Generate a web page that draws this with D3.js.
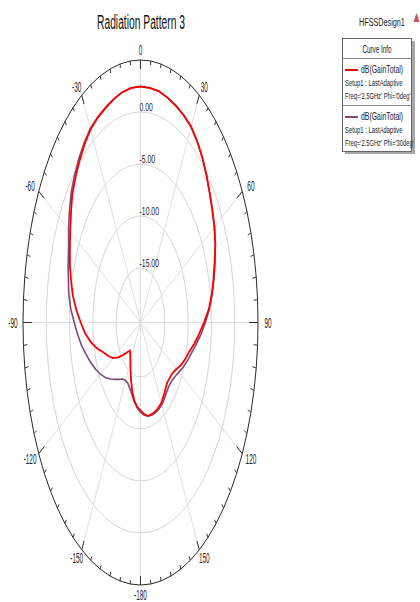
<!DOCTYPE html>
<html>
<head>
<meta charset="utf-8">
<script src="https://cdn.jsdelivr.net/npm/d3@7"></script>
<style>
  body { margin: 0; background: #fff; }
  text { font-family: "Liberation Sans", Arial, sans-serif; fill: #222; }
</style>
</head>
<body>
<div id="chart"></div>
<script>
// angles in degrees (0 = top, clockwise)
const angles = [-180,-175,-170,-165,-160,-155,-150,-145,-140,-135,-130,-125,-120,-115,-110,-105,-100,-95,-90,-85,-80,-75,-70,-65,-60,-55,-50,-45,-40,-35,-30,-25,-20,-15,-10,-5,
  0,5,10,15,20,25,30,35,40,45,50,55,60,65,70,75,80,85,90,95,100,105,110,115,120,125,130,135,140,145,150,155,160,165,170,175,180];

// dB(GainTotal), Phi = 0deg
const gainPhi0 = [-11.8,-12.1,-12.6,-13.4,-14.3,-15.2,-15.9,-16.4,-16.7,-16.2,-15.4,-14.4,-13.4,-12.6,-11.8,-10.6,-9.4,-8.3,-7.4,-6.4,-5.5,-4.8,-4.1,-3.5,-2.8,-2.0,-1.1,-0.5,0.1,0.7,1.2,1.5,1.7,2.0,2.25,2.4,
  2.45,2.4,2.35,2.15,1.95,1.75,1.5,1.0,0.45,-0.2,-0.85,-1.4,-1.9,-2.5,-3.3,-4.0,-4.7,-5.5,-6.6,-7.6,-8.5,-9.4,-10.0,-10.6,-11.3,-11.8,-12.0,-12.1,-11.9,-11.6,-11.3,-11.2,-11.1,-11.1,-11.1,-11.4,-11.8];

// dB(GainTotal), Phi = 30deg
const gainPhi30 = [-11.6,-12.0,-12.5,-13.1,-13.5,-13.8,-13.8,-13.6,-13.1,-12.5,-11.8,-11.0,-10.3,-9.6,-8.9,-8.2,-7.4,-6.7,-6.0,-5.2,-4.6,-4.2,-3.7,-3.2,-2.4,-1.6,-0.8,-0.2,0.35,0.85,1.3,1.55,1.75,2.0,2.25,2.4,
  2.45,2.4,2.35,2.15,1.95,1.75,1.5,1.0,0.45,-0.2,-0.85,-1.4,-1.9,-2.5,-3.2,-3.9,-4.6,-5.4,-6.3,-7.2,-8.1,-8.9,-9.5,-10.1,-10.7,-11.2,-11.5,-11.6,-11.5,-11.3,-11.1,-11.0,-11.0,-11.0,-11.1,-11.3,-11.6];

const ringValues = [0, -5, -10, -15];
const ringLabels = ["0.00", "-5.00", "-10.00", "-15.00"];
const spokeAngles = [0, 30, 60, 90, 120, 150, 180, 210, 240, 270, 300, 330];
const angleLabels = ["0", "30", "60", "90", "120", "150", "-180", "-150", "-120", "-90", "-60", "-30"];

const legendItems = [
  {color: "#ff0000", name: "dB(GainTotal)", setup: "Setup1 : LastAdaptive", freq: "Freq='2.5GHz' Phi='0deg'"},
  {color: "#7d4a7a", name: "dB(GainTotal)", setup: "Setup1 : LastAdaptive", freq: "Freq='2.5GHz' Phi='30deg'"}
];

const width = 420, height = 602;
const cx = 140.5, cy = 322.5, rx = 117.5, ry = 262.5;

const svg = d3.select("#chart").append("svg")
    .attr("width", width)
    .attr("height", height);

// radial scale: dB -> fraction of the outer radius
const r = d3.scaleLinear().domain([-20.24, 5]).range([0, 1]);
const rad = d => d * Math.PI / 180;
const px = (a, f) => cx + rx * f * Math.sin(rad(a));
const py = (a, f) => cy - ry * f * Math.cos(rad(a));

// squished text helper
function sText(parent, x, y, str, size, sx, anchor) {
    return parent.append("text")
        .attr("transform", "translate(" + x + "," + y + ") scale(" + sx + ",1)")
        .attr("text-anchor", anchor || "start")
        .style("font-size", size + "px")
        .text(str);
}

const grid = svg.append("g");

// inner rings
grid.selectAll(".ring")
    .data(ringValues)
    .enter().append("ellipse")
    .attr("cx", cx).attr("cy", cy)
    .attr("rx", d => rx * r(d))
    .attr("ry", d => ry * r(d))
    .attr("fill", "none")
    .attr("stroke", "#d6d6d6")
    .attr("stroke-width", 1);

// spokes
grid.selectAll(".spoke")
    .data(spokeAngles)
    .enter().append("line")
    .attr("x1", cx).attr("y1", cy)
    .attr("x2", d => px(d, 1))
    .attr("y2", d => py(d, 1))
    .attr("stroke", "#e0e0e0")
    .attr("stroke-width", 1);

// outer ring, drawn through the 5 degree points
const outerPts = d3.range(0, 361, 5).map(a => [px(a, 1), py(a, 1)]);
grid.append("path")
    .attr("d", d3.line()(outerPts))
    .attr("fill", "none")
    .attr("stroke", "#2a2a2a")
    .attr("stroke-width", 1);

// ticks on the outer ring
grid.selectAll(".tick")
    .data(d3.range(0, 360, 5))
    .enter().append("line")
    .each(function(a) {
        const x0 = px(a, 1), y0 = py(a, 1);
        const dx = cx - x0, dy = cy - y0;
        const len = Math.sqrt(dx * dx + dy * dy);
        const t = a % 30 === 0 ? 9 : 4;
        d3.select(this)
            .attr("x1", x0).attr("y1", y0)
            .attr("x2", x0 + dx / len * t)
            .attr("y2", y0 + dy / len * t);
    })
    .attr("stroke", "#333")
    .attr("stroke-width", 1);

// ring labels
ringValues.forEach((v, i) => {
    sText(svg, cx - 1, cy - ry * r(v) - 1, ringLabels[i], 11.5, 0.6, "start");
});

// angle labels
spokeAngles.forEach((a, i) => {
    const x = px(a, 1) + 10 * Math.sin(rad(a));
    const y = py(a, 1) - 10 * Math.cos(rad(a)) + 5;
    sText(svg, x, y, angleLabels[i], 14, 0.46, "middle");
});

// curves
const curve = d3.line()
    .x((d, i) => px(angles[i], r(d)))
    .y((d, i) => py(angles[i], r(d)));

svg.append("path")
    .datum(gainPhi30)
    .attr("d", curve)
    .attr("fill", "none")
    .attr("stroke", legendItems[1].color)
    .attr("stroke-width", 1.6);

svg.append("path")
    .datum(gainPhi0)
    .attr("d", curve)
    .attr("fill", "none")
    .attr("stroke", legendItems[0].color)
    .attr("stroke-width", 1.8);

// title
sText(svg, 141, 29, "Radiation Pattern 3", 21, 0.49, "middle").style("fill", "#111");

// legend
sText(svg, 359, 26, "HFSSDesign1", 11, 0.66, "start");
svg.append("path")
    .attr("d", "M413.5,22 L416.5,13 L419.5,22 Z")
    .attr("fill", "#d05050");

const lg = svg.append("g");
lg.append("rect")
    .attr("x", 345).attr("y", 41).attr("width", 70).attr("height", 113)
    .attr("fill", "#a8a8a8");
lg.append("rect")
    .attr("x", 342.5).attr("y", 38.5).attr("width", 69).attr("height", 113)
    .attr("fill", "#fff")
    .attr("stroke", "#666");
sText(lg, 377, 53, "Curve Info", 10, 0.63, "middle");
lg.append("line").attr("x1", 342.5).attr("x2", 411.5).attr("y1", 58.5).attr("y2", 58.5).attr("stroke", "#888");
lg.append("line").attr("x1", 342.5).attr("x2", 411.5).attr("y1", 105.5).attr("y2", 105.5).attr("stroke", "#888");

legendItems.forEach((d, i) => {
    const y0 = 70 + i * 47;
    lg.append("line")
        .attr("x1", 345).attr("x2", 358)
        .attr("y1", y0).attr("y2", y0)
        .attr("stroke", d.color)
        .attr("stroke-width", 2);
    sText(lg, 361, y0 + 3, d.name, 10, 0.69, "start");
    sText(lg, 345, y0 + 16, d.setup, 9.5, 0.62, "start");
    sText(lg, 345, y0 + 29, d.freq, 9.5, 0.61, "start");
});
</script>
</body>
</html>
